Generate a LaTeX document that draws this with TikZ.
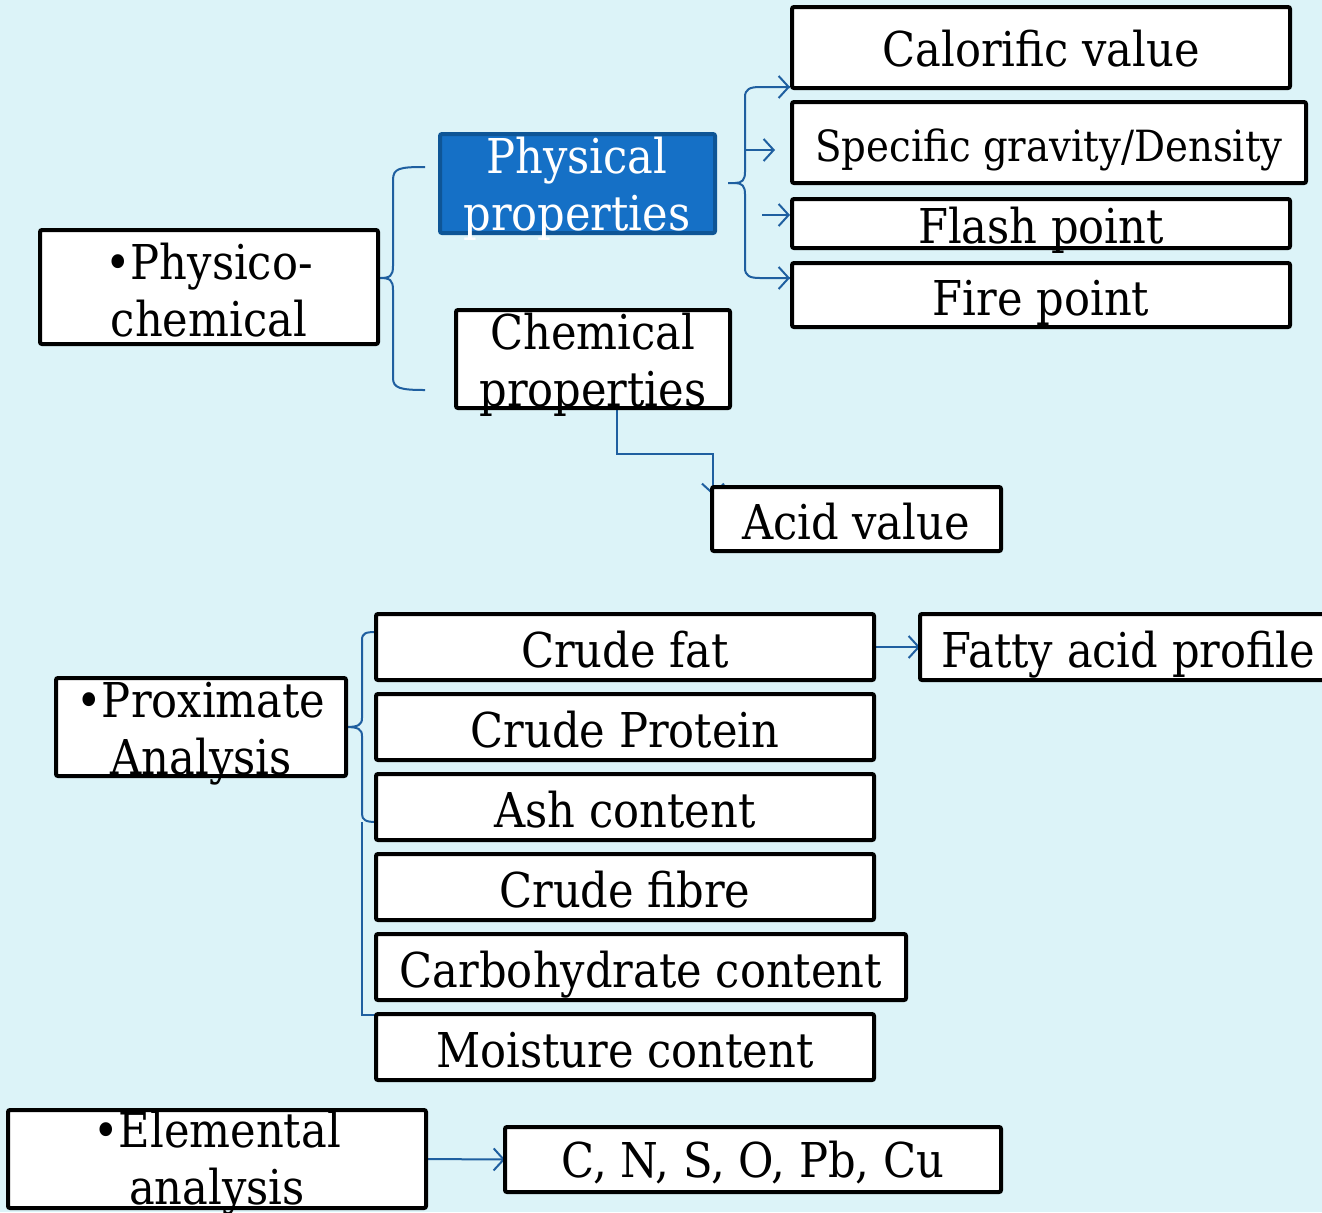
\documentclass[tikz,border=0pt]{standalone}
\usepackage{fontspec}
\setmainfont{DejaVu Serif}[FakeStretch=0.9]
\usetikzlibrary{arrows.meta,calc}
\definecolor{bgc}{HTML}{DCF3F8}
\definecolor{lnc}{HTML}{1F5FA0}
\definecolor{physfill}{HTML}{1570C6}
\definecolor{physdraw}{HTML}{0E5596}
\pgfdeclarelayer{back}\pgfdeclarelayer{conn}
\pgfsetlayers{back,conn,main}
\begin{document}
\begin{tikzpicture}[x=0.5pt,y=-0.5pt,
  box/.style={draw=black,line width=2pt,fill=white,rounded corners=1pt,inner sep=0pt,outer sep=0pt},
  lbl/.style={font=\fontsize{24}{28.5}\selectfont,align=center,inner sep=0pt},
  lb/.style={lbl,anchor=base},
  conn/.style={draw=lnc,line width=1pt},
  arr/.style={conn,-{Straight Barb[length=5pt,width=11pt]}}]
\begin{pgfonlayer}{back}
\fill[bgc] (0,0) rectangle (1322,1212);
\end{pgfonlayer}
\useasboundingbox (0,0) rectangle (1322,1212);
\clip (0,0) rectangle (1322,1212);
% boxes
\node[box,minimum width=249pt,minimum height=40.5pt] (calor) at (1041,47.5) {};
\node[box,minimum width=257pt,minimum height=40.5pt] (spec) at (1049,142.5) {};
\node[box,minimum width=249pt,minimum height=24.5pt] (flash) at (1041,223.5) {};
\node[box,minimum width=249pt,minimum height=32pt] (fire) at (1041,295) {};
\node[box,draw=physdraw,fill=physfill,minimum width=137.5pt,minimum height=49.5pt] (phys) at (577.5,183.5) {};
\node[box,minimum width=137pt,minimum height=49pt] (chem) at (593,359) {};
\node[box,minimum width=169pt,minimum height=57pt] (pc) at (209,287) {};
\node[box,minimum width=144.5pt,minimum height=32pt] (acid) at (856.5,519) {};
\node[box,minimum width=249pt,minimum height=33pt] (fat) at (625,647) {};
\node[box,minimum width=203pt,minimum height=33pt] (fap) at (1123,647) {};
\node[box,minimum width=249pt,minimum height=33pt] (prot) at (625,727) {};
\node[box,minimum width=249pt,minimum height=33pt] (ash) at (625,807) {};
\node[box,minimum width=249pt,minimum height=33pt] (fibre) at (625,887) {};
\node[box,minimum width=265pt,minimum height=33pt] (carb) at (641,967) {};
\node[box,minimum width=249pt,minimum height=33pt] (moist) at (625,1047) {};
\node[box,minimum width=145pt,minimum height=49pt] (prox) at (201,727) {};
\node[box,minimum width=209pt,minimum height=49pt] (elem) at (217,1159) {};
\node[box,minimum width=248pt,minimum height=32.5pt] (cn) at (753,1159.5) {};
% labels
\node[lb] (t-calor) at (1041,66) {Calorific value};
\node[lb,font=\fontsize{21.5}{25}\selectfont] (t-spec) at (1049,161) {Specific gravity/Density};
\node[lb] (t-flash) at (1041,243) {Flash point};
\node[lb] (t-fire) at (1041,315) {Fire point};
\node[lbl,text=white] (t-phys) at (577,189) {Physical\\properties};
\node[lbl] (t-chem) at (593,365) {Chemical\\properties};
\node[lbl] (t-pc) at (209,290) {•Physico-\\chemical};
\node[lb] (t-acid) at (856,539) {Acid value};
\node[lb] (t-fat) at (625,667) {Crude fat};
\node[lb] (t-fap) at (1128,667) {Fatty acid profile};
\node[lb] (t-prot) at (625,747) {Crude Protein};
\node[lb] (t-ash) at (625,827) {Ash content};
\node[lb] (t-fibre) at (625,907) {Crude fibre};
\node[lb] (t-carb) at (641,987) {Carbohydrate content};
\node[lb] (t-moist) at (625,1067) {Moisture content};
\node[lbl] (t-prox) at (201,734) {•Proximate\\Analysis};
\node[lbl] (t-elem) at (217,1163) {•Elemental\\analysis};
\node[lb] (t-cn) at (753,1177) {C, N, S, O, Pb, Cu};
% connector coordinates
\coordinate (b1tip) at (380,278);
\coordinate (b1top) at (425,167);
\coordinate (b1bot) at (425,390);
\coordinate (b2tip) at (728,183);
\coordinate (a-sp) at (775,150);
\coordinate (a-fl0) at (762,215);
\coordinate (a-fl) at (790,215);
\coordinate (a-ca) at (790,87);
\coordinate (a-fi) at (790,278);
\coordinate (acidtip) at (713,495);
\begin{pgfonlayer}{conn}
% brace physico-chemical
\draw[conn] (b1top) .. controls (400,167) and (393,168) .. (393,180) -- (393,266)
  .. controls (393,276) and (390,278) .. (b1tip)
  .. controls (390,278) and (393,280) .. (393,290) -- (393,378)
  .. controls (393,388) and (400,390) .. (b1bot);
% brace physical properties
\draw[conn] (b2tip) -- (735,183) .. controls (742,183) and (745,180) .. (745,172) -- (745,97)
  .. controls (745,89) and (750,87) .. (760,87) -- (a-ca);
\draw[conn] (735,183) .. controls (742,183) and (745,186) .. (745,194) -- (745,268)
  .. controls (745,276) and (750,278) .. (760,278) -- (a-fi);
\draw[arr] (760,87) -- (a-ca);
\draw[arr] (760,278) -- (a-fi);
\draw[arr] (745,150) -- (a-sp);
\draw[arr] (a-fl0) -- (a-fl);
% chemical -> acid
\draw[arr] ($(chem.south)+(24,0)$) |- (713,454) -- (acidtip);
% proximate brace
\draw[conn] (fat.west |- 0,632) .. controls (366,632) and (362,633) .. (362,640) -- (362,718)
  .. controls (362,725) and (358,727) .. (prox.east)
  .. controls (358,727) and (362,729) .. (362,736) -- (362,814)
  .. controls (362,820) and (366,822) .. (ash.west |- 0,822);
\draw[conn] (362,822) -- (362,1015) -- (moist.west |- 0,1015);
\draw[arr] (fat.east) -- (fap.west);
\draw[arr] (elem.east) -- (cn.west);
\end{pgfonlayer}
\end{tikzpicture}
\end{document}
